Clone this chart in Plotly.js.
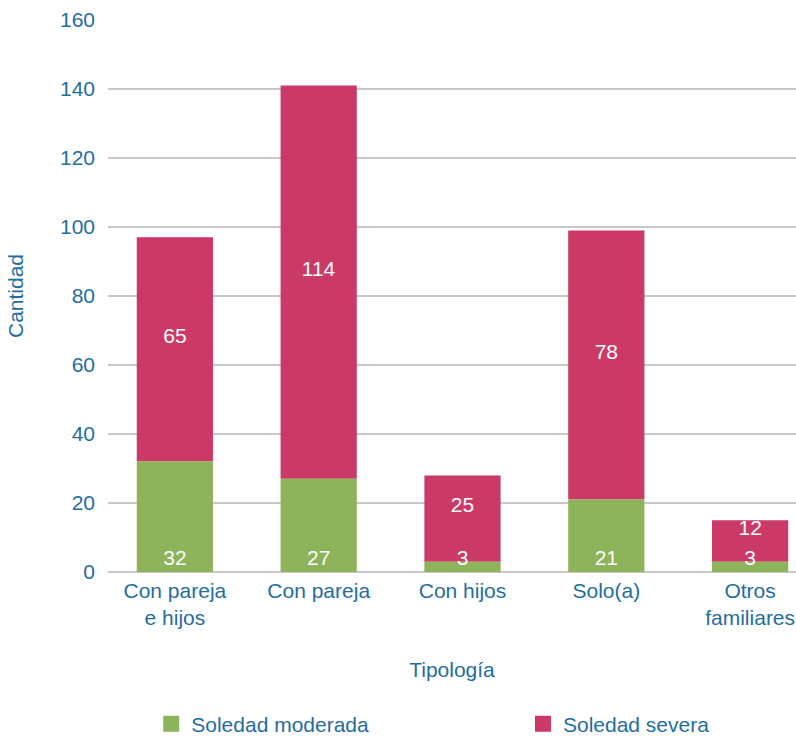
<!DOCTYPE html>
<html>
<head>
<meta charset="utf-8">
<script src="https://cdn.plot.ly/plotly-3.0.1.min.js"></script>
<style>html,body{margin:0;padding:0;background:#fff;}#chart{width:796px;height:736px;}</style>
</head>
<body>
<div id="chart"></div>
<script>
var categories = ["Con pareja<br>e hijos", "Con pareja", "Con hijos", "Solo(a)", "Otros<br>familiares"];
var moderada = [32, 27, 3, 21, 3];
var severa = [65, 114, 25, 78, 12];
var seriesNames = ["Soledad moderada", "Soledad severa"];
var seriesColors = ["#8db35b", "#cb3a67"];
var yTicks = [0, 20, 40, 60, 80, 100, 120, 140, 160];

var blue = "#1f6e9f";
var font = "Liberation Sans, Arial, sans-serif";
var fs = 21;

var traces = [
  // severa stacked on top of moderada (drawn first so moderada labels sit above it)
  {
    type: "bar", name: seriesNames[1], x: categories, y: severa, base: moderada,
    marker: {color: seriesColors[1]},
    texttemplate: "%{y}<br> ", textposition: "inside", insidetextanchor: "middle",
    constraintext: "none", textangle: 0,
    textfont: {color: "#ffffff", size: fs, family: font},
    hoverinfo: "none", showlegend: false
  },
  {
    type: "bar", name: seriesNames[0], x: categories, y: moderada,
    marker: {color: seriesColors[0]},
    text: moderada.map(String), textposition: "inside", insidetextanchor: "start",
    constraintext: "none", textangle: 0, cliponaxis: false,
    textfont: {color: "#ffffff", size: fs, family: font},
    hoverinfo: "none", showlegend: false
  },
  // legend entries
  {
    type: "scatter", mode: "markers", name: seriesNames[0], x: [null], y: [null],
    marker: {symbol: "square", size: 24, color: seriesColors[0]}, legend: "legend"
  },
  {
    type: "scatter", mode: "markers", name: seriesNames[1], x: [null], y: [null],
    marker: {symbol: "square", size: 24, color: seriesColors[1]}, legend: "legend2"
  }
];

var legendBase = {
  orientation: "h", xref: "container", yref: "container",
  xanchor: "left", y: 0.016, yanchor: "middle",
  font: {size: fs, color: blue, family: font}, itemwidth: 30
};

var layout = {
  width: 796, height: 736,
  margin: {l: 108, r: 0, t: 20, b: 164},
  barmode: "overlay",
  bargap: 0.47,
  paper_bgcolor: "#ffffff", plot_bgcolor: "#ffffff",
  font: {family: font, size: fs, color: blue},
  showlegend: true,
  legend: Object.assign({}, legendBase, {x: 0.19}),
  legend2: Object.assign({}, legendBase, {x: 0.657}),
  xaxis: {
    type: "category",
    range: [-0.465, 4.319],
    showgrid: false, zeroline: false, showline: false,
    ticks: "", ticklabelstandoff: 4, tickfont: {size: fs, color: blue, family: font},
    title: {text: "Tipología", font: {size: fs, color: blue, family: font}, standoff: 34},
    automargin: false, fixedrange: true
  },
  yaxis: {
    range: [0, 160], tickvals: yTicks, ticktext: yTicks.map(String),
    showgrid: true, gridcolor: "#c8c8c8", gridwidth: 2,
    zeroline: true, zerolinecolor: "#c8c8c8", zerolinewidth: 2,
    showline: false, ticks: "", ticklabelstandoff: 12,
    tickfont: {size: fs, color: blue, family: font},
    title: {text: "Cantidad", font: {size: fs, color: blue, family: font}, standoff: 30},
    automargin: false, fixedrange: true
  }
};

Plotly.newPlot("chart", traces, layout, {displayModeBar: false, staticPlot: true});
</script>
</body>
</html>
